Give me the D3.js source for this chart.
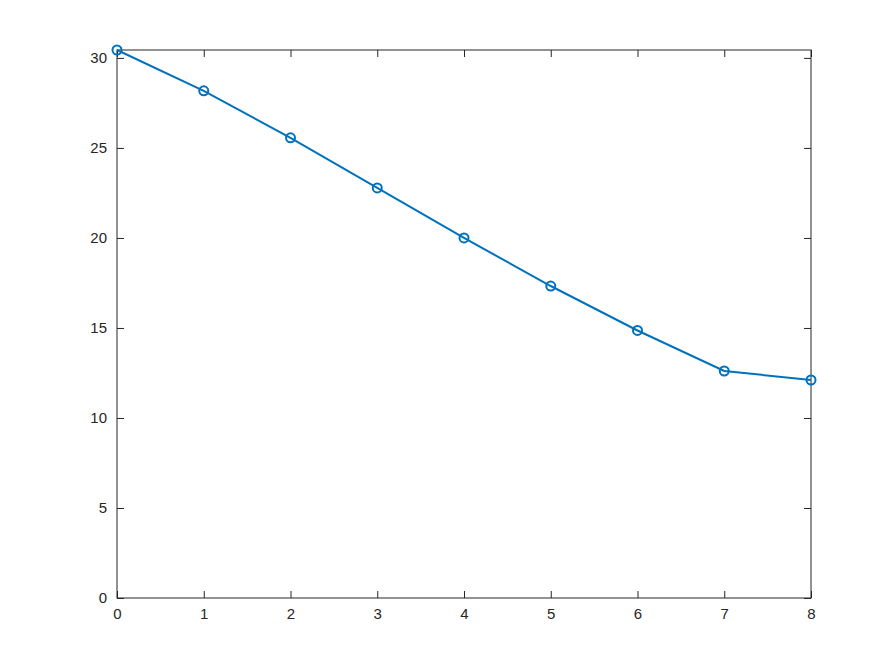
<!DOCTYPE html>
<html>
<head>
<meta charset="utf-8">
<script src="https://cdn.jsdelivr.net/npm/d3@7"></script>
<style>
  body { margin: 0; background: #fff; }
  .tick text { font-family: "Liberation Sans", Arial, sans-serif; font-size: 15px; }
</style>
</head>
<body>
<script>
// data
var xValues = [0, 1, 2, 3, 4, 5, 6, 7, 8];
var yValues = [30.44, 28.17, 25.56, 22.78, 20.0, 17.33, 14.86, 12.61, 12.11];
var xTicks = [0, 1, 2, 3, 4, 5, 6, 7, 8];
var yTicks = [0, 5, 10, 15, 20, 25, 30];

var svgWidth = 896;
var svgHeight = 672;
var margin = { top: 50, right: 85, bottom: 74, left: 117 };
var width = svgWidth - margin.left - margin.right;
var height = svgHeight - margin.top - margin.bottom;

var svg = d3.select("body").append("svg")
  .attr("width", svgWidth)
  .attr("height", svgHeight);

var g = svg.append("g")
  .attr("transform", `translate(${margin.left}, ${margin.top})`);

var x = d3.scaleLinear().domain([0, 8]).range([0, width]);
var y = d3.scaleLinear().domain([0, d3.max(yValues)]).range([height, 0]);

var axisColor = "#262626";
var tickLen = 7;

function styleAxis(sel) {
  sel.select(".domain").remove();
  sel.selectAll(".tick line").attr("stroke", axisColor);
  sel.selectAll(".tick text").attr("fill", axisColor);
}

// bottom & left axes (ticks pointing inward)
g.append("g").attr("transform", `translate(0, ${height})`)
  .call(d3.axisBottom(x).tickValues(xTicks).tickSizeInner(-tickLen).tickSizeOuter(0).tickPadding(10))
  .call(styleAxis);

g.append("g")
  .call(d3.axisLeft(y).tickValues(yTicks).tickSizeInner(-tickLen).tickSizeOuter(0).tickPadding(10))
  .call(styleAxis);

// top & right ticks without labels
g.append("g")
  .call(d3.axisTop(x).tickValues(xTicks).tickSizeInner(-tickLen).tickSizeOuter(0).tickFormat(""))
  .call(styleAxis);

g.append("g").attr("transform", `translate(${width}, 0)`)
  .call(d3.axisRight(y).tickValues(yTicks).tickSizeInner(-tickLen).tickSizeOuter(0).tickFormat(""))
  .call(styleAxis);

// box
g.append("rect")
  .attr("x", 0).attr("y", 0)
  .attr("width", width).attr("height", height)
  .attr("fill", "none")
  .attr("stroke", axisColor)
  .attr("stroke-width", 1);

var points = xValues.map((d, i) => ({ x: d, y: yValues[i] }));

var line = d3.line()
  .x(d => x(d.x))
  .y(d => y(d.y));

g.append("path")
  .datum(points)
  .attr("d", line)
  .attr("fill", "none")
  .attr("stroke", "#0072BD")
  .attr("stroke-width", 2);

g.selectAll("circle.marker")
  .data(points)
  .enter().append("circle")
  .attr("class", "marker")
  .attr("cx", d => x(d.x))
  .attr("cy", d => y(d.y))
  .attr("r", 4.5)
  .attr("fill", "none")
  .attr("stroke", "#0072BD")
  .attr("stroke-width", 2);
</script>
</body>
</html>
